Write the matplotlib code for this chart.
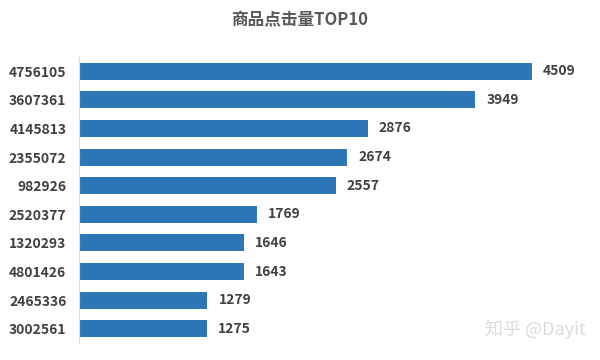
import matplotlib
matplotlib.use("Agg")
import matplotlib.pyplot as plt

plt.rcParams["font.family"] = ["Noto Sans CJK SC", "DejaVu Sans"]

# Data (top to bottom)
item_ids = ["4756105", "3607361", "4145813", "2355072", "982926",
            "2520377", "1320293", "4801426", "2465336", "3002561"]
clicks = [4509, 3949, 2876, 2674, 2557, 1769, 1646, 1643, 1279, 1275]

title = "商品点击量TOP10"
bar_color = "#2E75B6"
text_color = "#404040"

fig = plt.figure(figsize=(6, 3.6), dpi=100)
ax = fig.add_axes([79 / 600, 1 - 343 / 360, 502 / 600, 286 / 360])

y = list(range(len(item_ids)))
ax.barh(y, clicks, height=0.6, color=bar_color)
ax.set_ylim(len(item_ids) - 0.5, -0.5)
ax.set_xlim(0, 5000)

for yi, v in zip(y, clicks):
    ax.text(v + 110, yi, str(v), va="center", ha="left",
            fontsize=10, fontweight="bold", color=text_color)

ax.set_yticks(y)
ax.set_yticklabels(item_ids, fontsize=10, fontweight="bold", color=text_color)
ax.tick_params(axis="y", length=0, pad=9)
ax.set_xticks([])
for side in ["top", "right", "bottom"]:
    ax.spines[side].set_visible(False)
ax.spines["left"].set_color("#D0DCE8")
ax.spines["left"].set_linewidth(0.8)

fig.text(0.5, 1 - 20 / 360, title, ha="center", va="center",
         fontsize=12, fontweight="bold", color="#595959")

fig.text(586 / 600, 1 - 329 / 360, "知乎 @Dayit", ha="right", va="center",
         fontsize=13, color="#DCDCDC")

fig.savefig("out.png", dpi=100)
